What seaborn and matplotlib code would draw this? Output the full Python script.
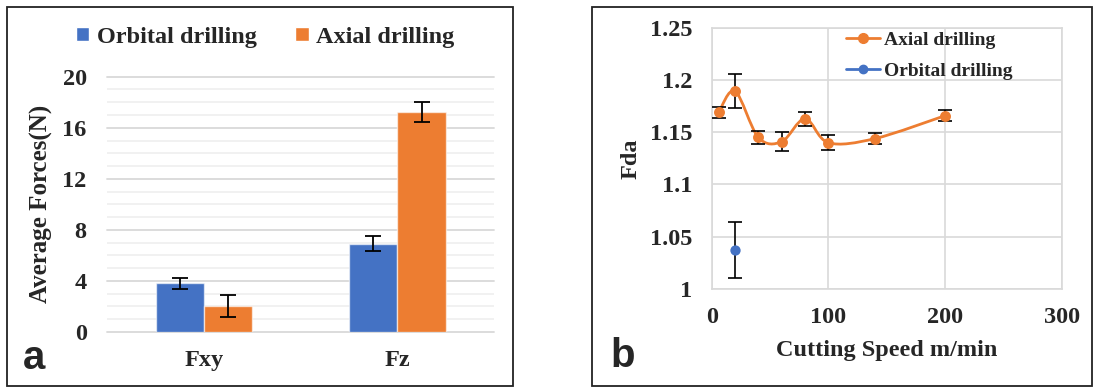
import numpy as np
import pandas as pd
import matplotlib
matplotlib.use("Agg")
import matplotlib.pyplot as plt
from matplotlib.path import Path
from matplotlib.patches import PathPatch, Patch, Rectangle
from matplotlib.lines import Line2D
from matplotlib.ticker import MultipleLocator, FuncFormatter
import seaborn as sns

sns.set_theme(style="white")
plt.rcParams["font.family"] = ["Liberation Serif", "DejaVu Serif"]
plt.rcParams["font.weight"] = "bold"
plt.rcParams["axes.labelweight"] = "bold"

BLUE = "#4472C4"
ORANGE = "#ED7D31"
GRID = "#d9d9d9"
GRID_MINOR = "#f0f0f0"
FS = 17.5

# ── (a) average forces ─────────────────────────────────────
force_comp = ["Fxy", "Fz"]
orbital_force = [3.82, 6.92]
orbital_force_err = [0.43, 0.57]
axial_force = [2.06, 17.21]
axial_force_err = [0.85, 0.78]

# ── (b) Fda vs cutting speed ───────────────────────────────
speed_axial = [6, 20, 40, 60, 80, 100, 140, 200]
fda_axial = [1.169, 1.1895, 1.145, 1.141, 1.163, 1.140, 1.144, 1.166]
fda_axial_err = [0.0054, 0.0161, 0.0066, 0.0093, 0.0067, 0.0072, 0.0054, 0.0053]
speed_orbital = [20]
fda_orbital = [1.037]
fda_orbital_err = [0.0265]


def smooth_path(xs, ys):
    # Excel-like smoothed line: cubic Bezier segments through the data points
    pts = np.column_stack([xs, ys]).astype(float)
    n = len(pts)
    verts, codes = [pts[0]], [Path.MOVETO]
    for i in range(n - 1):
        p0, p1 = pts[max(i - 1, 0)], pts[i]
        p2, p3 = pts[i + 1], pts[min(i + 2, n - 1)]
        verts += [p1 + (p2 - p0) / 6, p2 - (p3 - p1) / 6, p2]
        codes += [Path.CURVE4] * 3
    return Path(verts, codes)


W, H = 1093, 388
fig = plt.figure(figsize=(W / 100, H / 100), dpi=100)

# panel frames
for x0, x1 in [(7, 513), (592, 1092)]:
    fig.add_artist(Rectangle((x0 / W, 1 - 386 / H), (x1 - x0) / W, 379 / H,
                             transform=fig.transFigure, fill=False,
                             edgecolor="#222222", lw=1.3))

# ── panel a ────────────────────────────────────────────────
ax1 = fig.add_axes([107.5 / W, 1 - 332 / H, 386.5 / W, 255.3 / H])
df = pd.DataFrame({
    "comp": force_comp * 2,
    "method": ["Orbital drilling"] * 2 + ["Axial drilling"] * 2,
    "force": orbital_force + axial_force,
})
sns.barplot(data=df, x="comp", y="force", hue="method",
            palette=[BLUE, ORANGE], saturation=1, width=0.5,
            errorbar=None, legend=False, ax=ax1,
            edgecolor=(1, 1, 1, 0.6), linewidth=1)
for cont, errs in zip(ax1.containers, [orbital_force_err, axial_force_err]):
    xs = [p.get_x() + p.get_width() / 2 for p in cont]
    ys = [p.get_height() for p in cont]
    ax1.errorbar(xs, ys, yerr=errs, fmt="none", ecolor="black",
                 capsize=6, elinewidth=1.3, capthick=1.3, zorder=4)

ax1.set_xlim(-0.5, 1.5)
ax1.set_ylim(0, 20)
ax1.yaxis.set_major_locator(MultipleLocator(4))
ax1.yaxis.set_minor_locator(MultipleLocator(1))
ax1.grid(axis="y", which="major", color=GRID, lw=1.3)
ax1.grid(axis="y", which="minor", color=GRID_MINOR, lw=1.3)
for ln in ax1.get_ygridlines():
    ln.set_clip_on(False)
ax1.set_axisbelow(True)
sns.despine(ax=ax1, left=True, bottom=True)
ax1.tick_params(axis="y", which="both", length=0, pad=15, labelsize=FS)
ax1.tick_params(axis="x", length=0, pad=13, labelsize=FS)
ax1.set_xlabel("")
ax1.set_ylabel("Average Forces(N)", fontsize=18, labelpad=7)

leg_handles = [Patch(facecolor=BLUE), Patch(facecolor=ORANGE)]
fig.legend(leg_handles, ["Orbital drilling", "Axial drilling"],
           loc="center left", bbox_to_anchor=(76 / W, 1 - 37 / H),
           ncol=2, frameon=False, fontsize=FS, borderpad=0, borderaxespad=0,
           handlelength=0.55, handleheight=0.55, handletextpad=0.3,
           columnspacing=1.6)

# ── panel b ────────────────────────────────────────────────
ax2 = fig.add_axes([711.7 / W, 1 - 288.7 / H, 350.3 / W, 260.7 / H])
ax2.add_patch(PathPatch(smooth_path(speed_axial, fda_axial), facecolor="none",
                        edgecolor=ORANGE, lw=2, zorder=2))
ax2.errorbar(speed_axial, fda_axial, yerr=fda_axial_err, fmt="none",
             ecolor="black", capsize=5, elinewidth=1.2, capthick=1.2, zorder=3)
ax2.errorbar(speed_orbital, fda_orbital, yerr=fda_orbital_err, fmt="none",
             ecolor="black", capsize=5, elinewidth=1.2, capthick=1.2, zorder=3)
sns.scatterplot(x=speed_axial, y=fda_axial, color=ORANGE, s=62,
                edgecolor=ORANGE, linewidth=0, ax=ax2, zorder=4)
sns.scatterplot(x=speed_orbital, y=fda_orbital, color=BLUE, s=55,
                edgecolor=BLUE, linewidth=0, ax=ax2, zorder=4)

ax2.set_xlim(0, 300)
ax2.set_ylim(1.0, 1.25)
ax2.set_xticks([0, 100, 200, 300])
ax2.set_yticks([1.0, 1.05, 1.1, 1.15, 1.2, 1.25])
ax2.yaxis.set_major_formatter(FuncFormatter(lambda v, p: f"{round(v, 2):g}"))
ax2.grid(True, color=GRID, lw=1.2)
for sp in ax2.spines.values():
    sp.set_color(GRID)
    sp.set_linewidth(1.2)
ax2.tick_params(axis="y", length=0, pad=14, labelsize=FS)
ax2.tick_params(axis="x", length=0, pad=13, labelsize=FS)
ax2.set_xlabel("Cutting Speed m/min", fontsize=FS, labelpad=9)
ax2.set_ylabel("Fda", fontsize=FS, labelpad=6)

leg2 = [Line2D([], [], color=ORANGE, lw=2, marker="o", markersize=7),
        Line2D([], [], color=BLUE, lw=2, marker="o", markersize=6)]
fig.legend(leg2, ["Axial drilling", "Orbital drilling"],
           loc="upper left", bbox_to_anchor=(846 / W, 1 - 31 / H),
           frameon=False, fontsize=14, borderpad=0, borderaxespad=0,
           handlelength=1.75, handletextpad=0.2, labelspacing=0.7)

# panel letters
fig.text(23 / W, 1 - 369 / H, "a", fontsize=29, fontweight="bold",
         family="Liberation Sans", va="baseline")
fig.text(610 / W, 1 - 367 / H, "b", fontsize=29, fontweight="bold",
         family="Liberation Sans", va="baseline")

fig.savefig("out.png", dpi=100)
plt.close(fig)
